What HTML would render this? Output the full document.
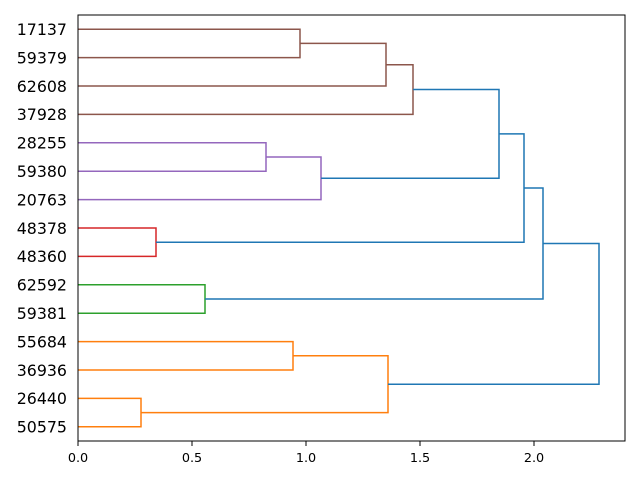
<!DOCTYPE html>
<html><head><style>body{margin:0;background:#fff}svg{display:block}</style></head><body>
<svg width="640" height="480" xmlns="http://www.w3.org/2000/svg" font-family="DejaVu Sans, Liberation Sans, sans-serif">
<g fill="none" stroke-width="1.5">
<g stroke="#8c564b">
<polyline points="78,29.2 300,29.2 300,57.6 78,57.6"/>
<polyline points="300,43.4 386,43.4 386,86 78,86"/>
<polyline points="386,64.7 413,64.7 413,114.4 78,114.4"/>
</g>
<g stroke="#9467bd">
<polyline points="78,142.8 266,142.8 266,171.2 78,171.2"/>
<polyline points="266,157 321,157 321,199.6 78,199.6"/>
</g>
<g stroke="#d62728"><polyline points="78,228 156,228 156,256.4 78,256.4"/></g>
<g stroke="#2ca02c"><polyline points="78,284.8 205,284.8 205,313.2 78,313.2"/></g>
<g stroke="#ff7f0e">
<polyline points="78,341.6 293,341.6 293,370 78,370"/>
<polyline points="78,398.4 141,398.4 141,426.8 78,426.8"/>
<polyline points="293,355.8 388,355.8 388,412.6 141,412.6"/>
</g>
<g stroke="#1f77b4">
<polyline points="413,89.5 499,89.5 499,178.3 321,178.3"/>
<polyline points="499,133.9 524,133.9 524,242.2 156,242.2"/>
<polyline points="524,188 543,188 543,299 205,299"/>
<polyline points="543,243.5 599,243.5 599,384.2 388,384.2"/>
</g>
</g>
<rect x="78" y="15" width="547" height="426" fill="none" stroke="#000" stroke-width="1"/>
<g stroke="#000" stroke-width="1">
<line x1="78" y1="441" x2="78" y2="446"/><line x1="192" y1="441" x2="192" y2="446"/><line x1="306" y1="441" x2="306" y2="446"/><line x1="420" y1="441" x2="420" y2="446"/><line x1="534" y1="441" x2="534" y2="446"/>
</g>
<g style="font-size:12.8px" text-anchor="middle" fill="#000">
<text x="78" y="462">0.0</text><text x="192" y="462">0.5</text><text x="306" y="462">1.0</text><text x="420" y="462">1.5</text><text x="534" y="462">2.0</text>
</g>
<g style="font-size:15.8px" text-anchor="end" fill="#000">
<text x="67" y="35">17137</text><text x="67" y="63.4">59379</text><text x="67" y="91.8">62608</text><text x="67" y="120.2">37928</text><text x="67" y="148.6">28255</text><text x="67" y="177">59380</text><text x="67" y="205.4">20763</text><text x="67" y="233.8">48378</text><text x="67" y="262.2">48360</text><text x="67" y="290.6">62592</text><text x="67" y="319">59381</text><text x="67" y="347.4">55684</text><text x="67" y="375.8">36936</text><text x="67" y="404.2">26440</text><text x="67" y="432.6">50575</text>
</g>
</svg>
</body></html>
